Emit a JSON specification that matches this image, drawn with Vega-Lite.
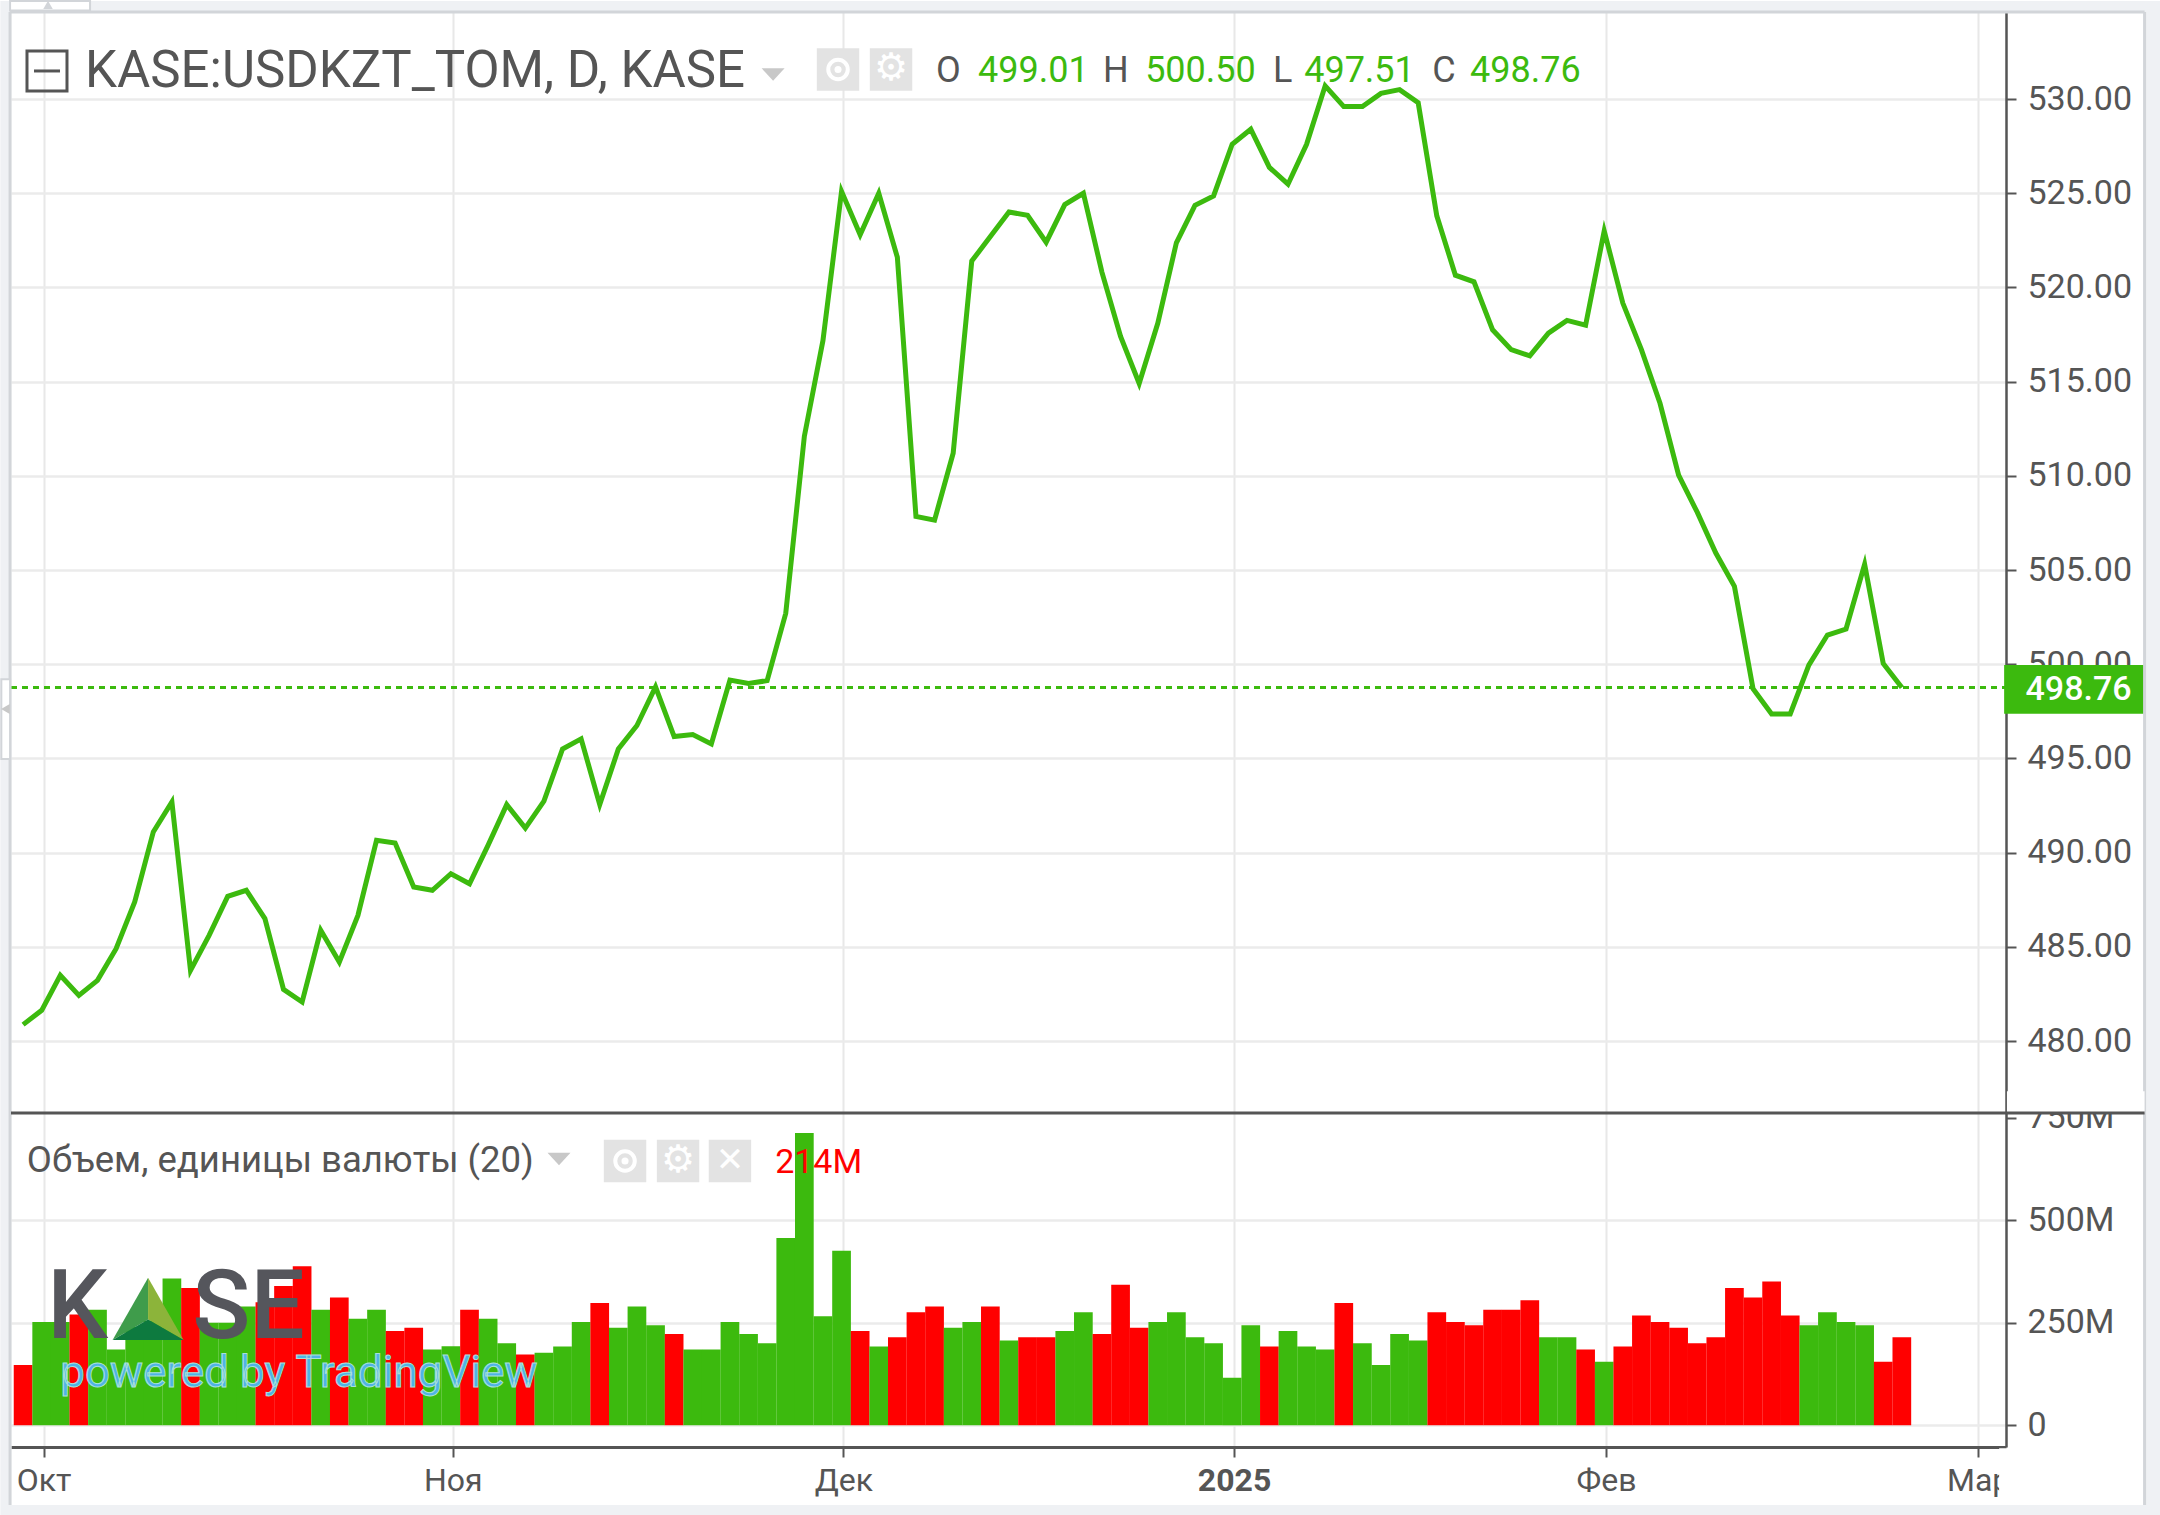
{
  "$schema": "https://vega.github.io/schema/vega-lite/v6.json",
  "padding": 0,
  "spacing": 0,
  "bounds": "flush",
  "background": "#ffffff",
  "config": {"view": {"stroke": null}, "text": {"font": "Roboto", "align": "left", "baseline": "middle"}},
  "datasets": {
    "notes": [{"note": "chart furniture"}],
    "sessions": [
      {"session":0,"close":480.87,"volume":147,"side":"down"},
      {"session":1,"close":481.63,"volume":252,"side":"up"},
      {"session":2,"close":483.49,"volume":252,"side":"up"},
      {"session":3,"close":482.42,"volume":270,"side":"down"},
      {"session":4,"close":483.22,"volume":282,"side":"up"},
      {"session":5,"close":484.9,"volume":185,"side":"up"},
      {"session":6,"close":487.38,"volume":240,"side":"up"},
      {"session":7,"close":491.1,"volume":255,"side":"up"},
      {"session":8,"close":492.69,"volume":358,"side":"up"},
      {"session":9,"close":483.75,"volume":335,"side":"down"},
      {"session":10,"close":485.61,"volume":250,"side":"up"},
      {"session":11,"close":487.68,"volume":250,"side":"up"},
      {"session":12,"close":488.0,"volume":290,"side":"up"},
      {"session":13,"close":486.5,"volume":300,"side":"down"},
      {"session":14,"close":482.74,"volume":340,"side":"down"},
      {"session":15,"close":482.07,"volume":388,"side":"down"},
      {"session":16,"close":485.88,"volume":282,"side":"up"},
      {"session":17,"close":484.19,"volume":312,"side":"down"},
      {"session":18,"close":486.67,"volume":260,"side":"up"},
      {"session":19,"close":490.65,"volume":282,"side":"up"},
      {"session":20,"close":490.51,"volume":230,"side":"down"},
      {"session":21,"close":488.18,"volume":238,"side":"down"},
      {"session":22,"close":488.0,"volume":185,"side":"up"},
      {"session":23,"close":488.88,"volume":193,"side":"up"},
      {"session":24,"close":488.35,"volume":282,"side":"down"},
      {"session":25,"close":490.4,"volume":260,"side":"up"},
      {"session":26,"close":492.55,"volume":200,"side":"up"},
      {"session":27,"close":491.3,"volume":173,"side":"down"},
      {"session":28,"close":492.73,"volume":177,"side":"up"},
      {"session":29,"close":495.5,"volume":192,"side":"up"},
      {"session":30,"close":496.04,"volume":252,"side":"up"},
      {"session":31,"close":492.55,"volume":298,"side":"down"},
      {"session":32,"close":495.5,"volume":238,"side":"up"},
      {"session":33,"close":496.75,"volume":290,"side":"up"},
      {"session":34,"close":498.8,"volume":244,"side":"up"},
      {"session":35,"close":496.16,"volume":223,"side":"down"},
      {"session":36,"close":496.27,"volume":185,"side":"up"},
      {"session":37,"close":495.77,"volume":185,"side":"up"},
      {"session":38,"close":499.16,"volume":252,"side":"up"},
      {"session":39,"close":498.98,"volume":223,"side":"up"},
      {"session":40,"close":499.13,"volume":200,"side":"up"},
      {"session":41,"close":502.7,"volume":457,"side":"up"},
      {"session":42,"close":512.1,"volume":713,"side":"up"},
      {"session":43,"close":517.18,"volume":266,"side":"up"},
      {"session":44,"close":525.1,"volume":426,"side":"up"},
      {"session":45,"close":522.8,"volume":230,"side":"down"},
      {"session":46,"close":525.0,"volume":192,"side":"up"},
      {"session":47,"close":521.6,"volume":215,"side":"down"},
      {"session":48,"close":507.85,"volume":276,"side":"down"},
      {"session":49,"close":507.65,"volume":290,"side":"down"},
      {"session":50,"close":511.2,"volume":238,"side":"up"},
      {"session":51,"close":521.4,"volume":252,"side":"up"},
      {"session":52,"close":522.7,"volume":290,"side":"down"},
      {"session":53,"close":524.0,"volume":207,"side":"up"},
      {"session":54,"close":523.83,"volume":215,"side":"down"},
      {"session":55,"close":522.4,"volume":215,"side":"down"},
      {"session":56,"close":524.4,"volume":230,"side":"up"},
      {"session":57,"close":525.0,"volume":276,"side":"up"},
      {"session":58,"close":520.8,"volume":223,"side":"down"},
      {"session":59,"close":517.4,"volume":343,"side":"down"},
      {"session":60,"close":514.9,"volume":238,"side":"down"},
      {"session":61,"close":518.1,"volume":252,"side":"up"},
      {"session":62,"close":522.37,"volume":276,"side":"up"},
      {"session":63,"close":524.36,"volume":215,"side":"up"},
      {"session":64,"close":524.86,"volume":200,"side":"up"},
      {"session":65,"close":527.6,"volume":116,"side":"up"},
      {"session":66,"close":528.4,"volume":244,"side":"up"},
      {"session":67,"close":526.37,"volume":192,"side":"down"},
      {"session":68,"close":525.48,"volume":230,"side":"up"},
      {"session":69,"close":527.6,"volume":192,"side":"up"},
      {"session":70,"close":530.7,"volume":185,"side":"up"},
      {"session":71,"close":529.6,"volume":298,"side":"down"},
      {"session":72,"close":529.6,"volume":200,"side":"up"},
      {"session":73,"close":530.3,"volume":147,"side":"up"},
      {"session":74,"close":530.5,"volume":223,"side":"up"},
      {"session":75,"close":529.8,"volume":207,"side":"up"},
      {"session":76,"close":523.8,"volume":276,"side":"down"},
      {"session":77,"close":520.65,"volume":252,"side":"down"},
      {"session":78,"close":520.3,"volume":244,"side":"down"},
      {"session":79,"close":517.75,"volume":282,"side":"down"},
      {"session":80,"close":516.7,"volume":282,"side":"down"},
      {"session":81,"close":516.37,"volume":305,"side":"down"},
      {"session":82,"close":517.57,"volume":215,"side":"up"},
      {"session":83,"close":518.25,"volume":215,"side":"up"},
      {"session":84,"close":518.0,"volume":185,"side":"down"},
      {"session":85,"close":523.0,"volume":155,"side":"up"},
      {"session":86,"close":519.17,"volume":192,"side":"down"},
      {"session":87,"close":516.7,"volume":268,"side":"down"},
      {"session":88,"close":513.85,"volume":252,"side":"down"},
      {"session":89,"close":510.04,"volume":238,"side":"down"},
      {"session":90,"close":508.07,"volume":200,"side":"down"},
      {"session":91,"close":505.9,"volume":215,"side":"down"},
      {"session":92,"close":504.14,"volume":335,"side":"down"},
      {"session":93,"close":498.7,"volume":312,"side":"down"},
      {"session":94,"close":497.36,"volume":351,"side":"down"},
      {"session":95,"close":497.36,"volume":268,"side":"down"},
      {"session":96,"close":499.95,"volume":244,"side":"up"},
      {"session":97,"close":501.55,"volume":276,"side":"up"},
      {"session":98,"close":501.87,"volume":252,"side":"up"},
      {"session":99,"close":505.3,"volume":244,"side":"up"},
      {"session":100,"close":500.04,"volume":155,"side":"down"},
      {"session":101,"close":498.76,"volume":215,"side":"down"}
    ]
  },
  "vconcat": [
    {
      "width": 1995,
      "height": 1101,
      "layer": [
        {
          "data": {"name": "sessions"},
          "mark": {"type": "line", "color": "#3cba0e", "strokeWidth": 5, "strokeJoin": "miter", "strokeMiterLimit": 6},
          "encoding": {
            "x": {
              "field": "session", "type": "quantitative",
              "scale": {"domain": [-0.65, 106.6], "nice": false, "zero": false},
              "axis": {"title": null, "orient": "bottom", "values": [1.1, 23.1, 44.1, 65.1, 85.1, 105.1], "labels": false, "ticks": false, "domain": false, "grid": true, "gridColor": "#e8e8e8", "gridWidth": 2}
            },
            "y": {
              "field": "close", "type": "quantitative",
              "scale": {"domain": [476.18, 534.62], "nice": false, "zero": false},
              "axis": {"title": null, "orient": "right", "values": [480, 485, 490, 495, 500, 505, 510, 515, 520, 525, 530], "format": ".2f", "tickSize": 10, "tickColor": "#555555", "tickWidth": 2, "domainColor": "#555555", "domainWidth": 2.5, "labelFont": "Roboto", "labelFontSize": 34, "labelColor": "#555555", "labelPadding": 11, "grid": true, "gridColor": "#ebebeb", "gridWidth": 2.5}
            }
          }
        },
        {
          "data": {"name": "notes"},
          "layer": [
            {"mark": {"type": "rule", "color": "#3cba0e", "strokeWidth": 3, "strokeDash": [6, 5]}, "encoding": {"x": {"datum": -0.65}, "x2": {"datum": 106.9}, "y": {"datum": 498.76}}},
            {"mark": {"type": "rect", "color": "#3cba0e"}, "encoding": {"x": {"datum": 106.5}, "x2": {"datum": 114.12}, "y": {"datum": 499.96}, "y2": {"datum": 497.37}}},
            {"mark": {"type": "text", "text": "498.76", "color": "#ffffff", "fontSize": 34, "fontWeight": 500, "align": "center"}, "encoding": {"x": {"datum": 110.5}, "y": {"datum": 498.62}}},

            {"mark": {"type": "text", "text": "KASE:USDKZT_TOM, D, KASE", "color": "#555555", "fontSize": 51}, "encoding": {"x": {"datum": 3.33}, "y": {"datum": 531.43}}},
            {"mark": {"type": "point", "shape": "square", "size": 1600, "filled": false, "color": "#555555", "strokeWidth": 3, "opacity": 1}, "encoding": {"x": {"datum": 1.285}, "y": {"datum": 531.49}}},
            {"mark": {"type": "point", "shape": "stroke", "size": 676, "filled": false, "color": "#555555", "strokeWidth": 3, "opacity": 1}, "encoding": {"x": {"datum": 1.285}, "y": {"datum": 531.49}}},
            {"mark": {"type": "point", "shape": "M-1 -0.55 L1 -0.55 L0 0.55 Z", "size": 529, "filled": true, "color": "#c8c8c8", "opacity": 1}, "encoding": {"x": {"datum": 40.32}, "y": {"datum": 531.3}}},
            {"mark": {"type": "point", "shape": "square", "size": 1800, "filled": true, "color": "#e3e3e3", "opacity": 1}, "encoding": {"x": {"datum": 43.81}, "y": {"datum": 531.57}}},
            {"mark": {"type": "point", "shape": "square", "size": 1800, "filled": true, "color": "#e3e3e3", "opacity": 1}, "encoding": {"x": {"datum": 46.66}, "y": {"datum": 531.57}}},
            {"mark": {"type": "point", "shape": "circle", "size": 380, "filled": false, "color": "#ffffff", "strokeWidth": 4, "opacity": 1}, "encoding": {"x": {"datum": 43.81}, "y": {"datum": 531.57}}},
            {"mark": {"type": "point", "shape": "circle", "size": 50, "filled": true, "color": "#ffffff", "opacity": 1}, "encoding": {"x": {"datum": 43.81}, "y": {"datum": 531.57}}},
            {"mark": {"type": "text", "text": "⚙", "font": "DejaVu Sans", "color": "#ffffff", "fontSize": 38, "align": "center"}, "encoding": {"x": {"datum": 46.66}, "y": {"datum": 531.57}}},

            {"mark": {"type": "text", "text": "O", "color": "#555555", "fontSize": 36}, "encoding": {"x": {"datum": 49.08}, "y": {"datum": 531.5}}},
            {"mark": {"type": "text", "text": "499.01", "color": "#3cba0e", "fontSize": 36}, "encoding": {"x": {"datum": 51.34}, "y": {"datum": 531.5}}},
            {"mark": {"type": "text", "text": "H", "color": "#555555", "fontSize": 36}, "encoding": {"x": {"datum": 58.06}, "y": {"datum": 531.5}}},
            {"mark": {"type": "text", "text": "500.50", "color": "#3cba0e", "fontSize": 36}, "encoding": {"x": {"datum": 60.32}, "y": {"datum": 531.5}}},
            {"mark": {"type": "text", "text": "L", "color": "#555555", "fontSize": 36}, "encoding": {"x": {"datum": 67.2}, "y": {"datum": 531.5}}},
            {"mark": {"type": "text", "text": "497.51", "color": "#3cba0e", "fontSize": 36}, "encoding": {"x": {"datum": 68.87}, "y": {"datum": 531.5}}},
            {"mark": {"type": "text", "text": "C", "color": "#555555", "fontSize": 36}, "encoding": {"x": {"datum": 75.75}, "y": {"datum": 531.5}}},
            {"mark": {"type": "text", "text": "498.76", "color": "#3cba0e", "fontSize": 36}, "encoding": {"x": {"datum": 77.79}, "y": {"datum": 531.5}}},

            {"mark": {"type": "rect", "color": "#eff1f4"}, "encoding": {"x": {"datum": -1.22}, "x2": {"datum": 114.95}, "y": {"datum": 535.2}, "y2": {"datum": 534.62}}},
            {"mark": {"type": "rect", "color": "#eff1f4"}, "encoding": {"x": {"datum": -1.22}, "x2": {"datum": -0.7}, "y": {"datum": 534.62}, "y2": {"datum": 476.18}}},
            {"mark": {"type": "rect", "color": "#eff1f4"}, "encoding": {"x": {"datum": 114.05}, "x2": {"datum": 114.95}, "y": {"datum": 534.62}, "y2": {"datum": 476.18}}},
            {"mark": {"type": "rule", "color": "#d2d5d9", "strokeWidth": 3}, "encoding": {"x": {"datum": -0.7}, "x2": {"datum": 114.05}, "y": {"datum": 534.62}}},
            {"mark": {"type": "rule", "color": "#d2d5d9", "strokeWidth": 3}, "encoding": {"x": {"datum": -0.7}, "y": {"datum": 534.62}, "y2": {"datum": 476.18}}},
            {"mark": {"type": "rule", "color": "#d2d5d9", "strokeWidth": 3}, "encoding": {"x": {"datum": 114.05}, "y": {"datum": 534.62}, "y2": {"datum": 476.18}}},
            {"mark": {"type": "rect", "color": "#ffffff", "stroke": "#d2d5d9", "strokeWidth": 2}, "encoding": {"x": {"datum": -0.7}, "x2": {"datum": 3.6}, "y": {"datum": 535.2}, "y2": {"datum": 534.7}}},
            {"mark": {"type": "point", "shape": "triangle-up", "size": 90, "filled": true, "color": "#d2d5d9", "opacity": 1}, "encoding": {"x": {"datum": 1.34}, "y": {"datum": 535.0}}},
            {"mark": {"type": "rect", "color": "#ffffff", "stroke": "#d2d5d9", "strokeWidth": 2}, "encoding": {"x": {"datum": -1.17}, "x2": {"datum": -0.7}, "y": {"datum": 499.2}, "y2": {"datum": 494.97}}},
            {"mark": {"type": "point", "shape": "triangle-left", "size": 100, "filled": true, "color": "#c8c8c8", "opacity": 1}, "encoding": {"x": {"datum": -0.95}, "y": {"datum": 497.62}}}
          ]
        }
      ]
    },
    {
      "width": 1995,
      "height": 334,
      "layer": [
        {
          "data": {"name": "sessions"},
          "mark": {"type": "bar", "width": 18.7, "orient": "vertical"},
          "encoding": {
            "x": {
              "field": "session", "type": "quantitative",
              "scale": {"domain": [-0.65, 106.6], "nice": false, "zero": false, "padding": 0},
              "axis": {
                "title": null, "orient": "bottom", "values": [1.1, 23.1, 44.1, 65.1, 85.1, 105.1],
                "labelExpr": "datum.value < 2 ? 'Окт' : datum.value < 24 ? 'Ноя' : datum.value < 45 ? 'Дек' : datum.value < 66 ? '2025' : datum.value < 86 ? 'Фев' : 'Мар'",
                "labelFontWeight": {"condition": {"test": "datum.value > 65 && datum.value < 66", "value": "bold"}, "value": "normal"},
                "labelFont": "Roboto", "labelFontSize": 32, "labelColor": "#555555", "labelPadding": 8, "labelOverlap": false, "labelFlush": false, "labelBound": false,
                "tickSize": 10, "tickColor": "#555555", "tickWidth": 2, "domainColor": "#555555", "domainWidth": 3, "grid": true, "gridColor": "#e8e8e8", "gridWidth": 2
              }
            },
            "y": {
              "field": "volume", "type": "quantitative", "stack": null,
              "scale": {"domain": [-52.9, 761.7], "nice": false, "zero": false},
              "axis": {
                "title": null, "orient": "right", "values": [0, 250, 500, 750],
                "labelExpr": "datum.value == 0 ? '0' : datum.value + 'M'",
                "tickSize": 10, "tickColor": "#555555", "tickWidth": 2, "domainColor": "#555555", "domainWidth": 2.5, "labelFont": "Roboto", "labelFontSize": 34, "labelColor": "#555555", "labelPadding": 11,
                "grid": true, "gridColor": "#ebebeb", "gridWidth": 2.5, "gridOpacity": {"condition": {"test": "datum.value > 700", "value": 0}, "value": 1}
              }
            },
            "color": {"field": "side", "type": "nominal", "scale": {"domain": ["up", "down"], "range": ["#3cba0e", "#ff0000"]}, "legend": null}
          }
        },
        {
          "data": {"name": "notes"},
          "layer": [
            {"mark": {"type": "rect", "color": "#ffffff"}, "encoding": {"x": {"datum": 106.23}, "x2": {"datum": 114.05}, "y": {"datum": -56}, "y2": {"datum": -194.4}}},
            {"mark": {"type": "rect", "color": "#ffffff"}, "encoding": {"x": {"datum": 106.65}, "x2": {"datum": 114.05}, "y": {"datum": 761.7}, "y2": {"datum": 815}}},

            {"mark": {"type": "text", "text": "Объем, единицы валюты (20)", "color": "#555555", "fontSize": 36.5}, "encoding": {"x": {"datum": 0.2}, "y": {"datum": 644.6}}},
            {"mark": {"type": "point", "shape": "M-1 -0.55 L1 -0.55 L0 0.55 Z", "size": 529, "filled": true, "color": "#c8c8c8", "opacity": 1}, "encoding": {"x": {"datum": 28.81}, "y": {"datum": 649.5}}},
            {"mark": {"type": "point", "shape": "square", "size": 1800, "filled": true, "color": "#e3e3e3", "opacity": 1}, "encoding": {"x": {"datum": 32.36}, "y": {"datum": 644.6}}},
            {"mark": {"type": "point", "shape": "square", "size": 1800, "filled": true, "color": "#e3e3e3", "opacity": 1}, "encoding": {"x": {"datum": 35.21}, "y": {"datum": 644.6}}},
            {"mark": {"type": "point", "shape": "square", "size": 1800, "filled": true, "color": "#e3e3e3", "opacity": 1}, "encoding": {"x": {"datum": 38.0}, "y": {"datum": 644.6}}},
            {"mark": {"type": "point", "shape": "circle", "size": 380, "filled": false, "color": "#ffffff", "strokeWidth": 4, "opacity": 1}, "encoding": {"x": {"datum": 32.36}, "y": {"datum": 644.6}}},
            {"mark": {"type": "point", "shape": "circle", "size": 50, "filled": true, "color": "#ffffff", "opacity": 1}, "encoding": {"x": {"datum": 32.36}, "y": {"datum": 644.6}}},
            {"mark": {"type": "text", "text": "⚙", "font": "DejaVu Sans", "color": "#ffffff", "fontSize": 38, "align": "center"}, "encoding": {"x": {"datum": 35.21}, "y": {"datum": 644.6}}},
            {"mark": {"type": "text", "text": "✕", "font": "DejaVu Sans", "color": "#ffffff", "fontSize": 34, "align": "center"}, "encoding": {"x": {"datum": 38.0}, "y": {"datum": 644.6}}},
            {"mark": {"type": "text", "text": "214M", "color": "#ff0000", "fontSize": 34}, "encoding": {"x": {"datum": 40.43}, "y": {"datum": 640}}},

            {"mark": {"type": "text", "text": "K", "color": "#55565c", "fontSize": 96, "fontWeight": 500}, "encoding": {"x": {"datum": 1.3}, "y": {"datum": 284}}},
            {"mark": {"type": "text", "text": "SE", "color": "#55565c", "fontSize": 96, "fontWeight": 500}, "encoding": {"x": {"datum": 9.1}, "y": {"datum": 284}}},
            {"mark": {"type": "point", "shape": "M0 -0.88 L-1 0.88 L0 0.3 Z", "size": 5041, "filled": true, "color": "#3f9c4b", "opacity": 1}, "encoding": {"x": {"datum": 6.72}, "y": {"datum": 284}}},
            {"mark": {"type": "point", "shape": "M0 -0.88 L1 0.88 L0 0.3 Z", "size": 5041, "filled": true, "color": "#8cb43a", "opacity": 1}, "encoding": {"x": {"datum": 6.72}, "y": {"datum": 284}}},
            {"mark": {"type": "point", "shape": "M-1 0.88 L1 0.88 L0 0.3 Z", "size": 5041, "filled": true, "color": "#0d7a3f", "opacity": 1}, "encoding": {"x": {"datum": 6.72}, "y": {"datum": 284}}},
            {"mark": {"type": "text", "text": "powered by TradingView", "color": "#4fb3e6", "fontSize": 44, "stroke": "#a8e0d8", "strokeWidth": 1}, "encoding": {"x": {"datum": 2.0}, "y": {"datum": 125}}},

            {"mark": {"type": "rect", "color": "#eff1f4"}, "encoding": {"x": {"datum": -1.22}, "x2": {"datum": -0.7}, "y": {"datum": 761.7}, "y2": {"datum": -194.4}}},
            {"mark": {"type": "rect", "color": "#eff1f4"}, "encoding": {"x": {"datum": 114.05}, "x2": {"datum": 114.95}, "y": {"datum": 761.7}, "y2": {"datum": -194.4}}},
            {"mark": {"type": "rect", "color": "#eff1f4"}, "encoding": {"x": {"datum": -1.22}, "x2": {"datum": 114.95}, "y": {"datum": -194.4}, "y2": {"datum": -221}}},
            {"mark": {"type": "rule", "color": "#d2d5d9", "strokeWidth": 3}, "encoding": {"x": {"datum": -0.7}, "y": {"datum": 761.7}, "y2": {"datum": -194.4}}},
            {"mark": {"type": "rule", "color": "#d2d5d9", "strokeWidth": 3}, "encoding": {"x": {"datum": 114.05}, "y": {"datum": 761.7}, "y2": {"datum": -194.4}}},
            {"mark": {"type": "rule", "color": "#555555", "strokeWidth": 3}, "encoding": {"x": {"datum": -0.65}, "x2": {"datum": 114.05}, "y": {"datum": 761.7}}}
          ]
        }
      ]
    }
  ]
}
